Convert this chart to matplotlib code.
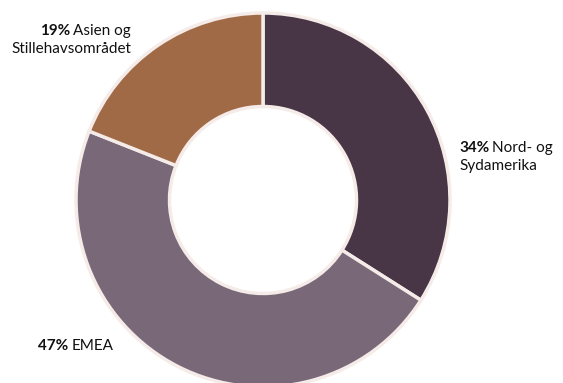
import matplotlib
matplotlib.use("Agg")
import matplotlib.pyplot as plt
from matplotlib.transforms import offset_copy

regions = ["Nord- og\nSydamerika", "EMEA", "Asien og\nStillehavsområdet"]
shares = [34, 47, 19]
colors = ["#483545", "#796878", "#a06a47"]

W, H = 563, 383
CX, CY = 263, 200   # centre in pixels from top-left
R = 187

fig = plt.figure(figsize=(W / 100, H / 100), dpi=100)
ax = fig.add_axes([0, 0, 1, 1])
ax.pie(shares, colors=colors, startangle=90, counterclock=False,
       radius=1, wedgeprops=dict(width=0.5, edgecolor="#f5ece9", linewidth=2.5))
ax.set_xlim(-CX / R, (W - CX) / R)
ax.set_ylim(-(H - CY) / R, CY / R)
ax.set_aspect("equal")
ax.axis("off")

plt.rcParams["font.family"] = ["Lato", "DejaVu Sans"]
FS = 11
INK = "#111111"
renderer = fig.canvas.get_renderer()


def px(x, y):
    return (x - CX) / R, (CY - y) / R


def label(pct, text, x, y, ha):
    first, *rest = text.split("\n")
    bx, by = px(x, y)
    if ha == "left":
        b = ax.text(bx, by, f"{pct}%", fontsize=FS, fontweight="bold",
                    ha="left", va="baseline", color=INK)
        w = b.get_window_extent(renderer).width
        ax.text(bx, by, first, fontsize=FS, ha="left", va="baseline", color=INK,
                transform=offset_copy(ax.transData, fig=fig, x=w + 3, units="dots"))
    else:
        t = ax.text(bx, by, first, fontsize=FS, ha="right", va="baseline", color=INK)
        w = t.get_window_extent(renderer).width
        ax.text(bx, by, f"{pct}%", fontsize=FS, fontweight="bold", ha="right",
                va="baseline", color=INK,
                transform=offset_copy(ax.transData, fig=fig, x=-(w + 3), units="dots"))
    for i, line in enumerate(rest, 1):
        lx, ly = px(x, y + 18 * i)
        ax.text(lx, ly, line, fontsize=FS, ha=ha, va="baseline", color=INK)


label(shares[0], regions[0], 459, 152, "left")
label(shares[1], regions[1], 38, 350, "left")
label(shares[2], regions[2], 131, 35, "right")

fig.savefig("out.png", dpi=100)
